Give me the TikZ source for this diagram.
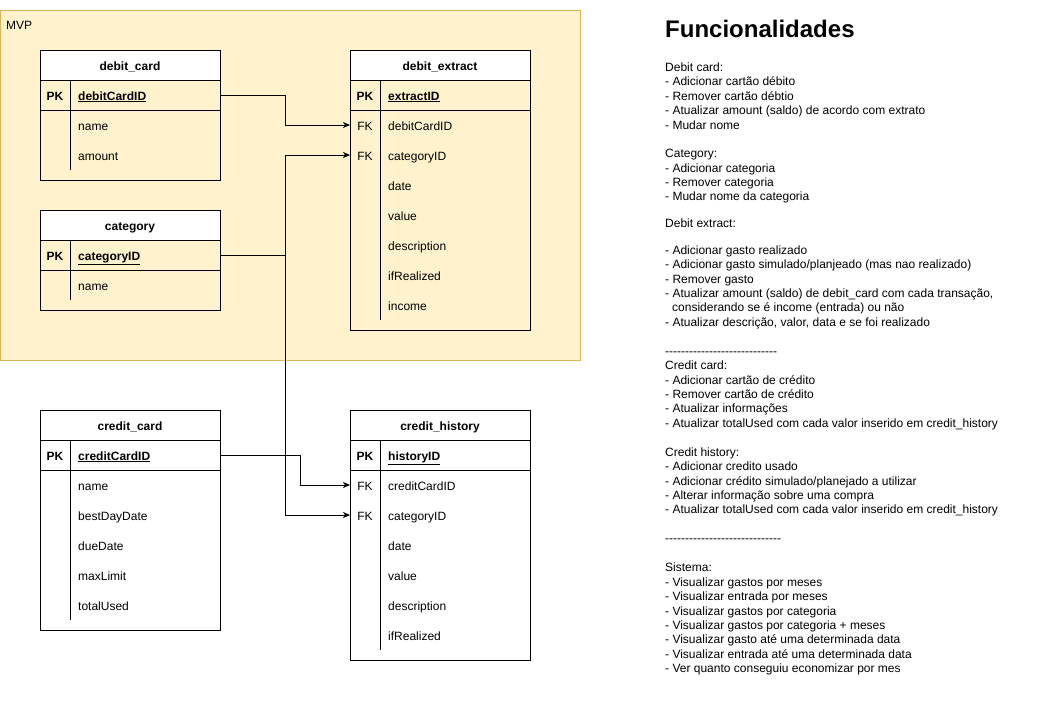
\documentclass[tikz,border=0pt]{standalone}
\usepackage{fontspec}
\setmainfont{Liberation Sans}
\usetikzlibrary{arrows.meta}
\definecolor{mvpfill}{HTML}{FFF2CC}
\definecolor{mvpline}{HTML}{D6B656}
\newcommand\fs{\fontsize{12}{14.4}\selectfont}
\newcommand\dashline[1]{\foreach\k in {1,...,#1}{-\kern0pt}}
% table frame: id, x, y, height, title
\newcommand\ertable[5]{%
  \node[tbody, minimum height=#4, anchor=north west] (#1) at (#2,#3) {};
  \node[thead, anchor=north west] (#1-h) at (#2,#3) {#5};
}
% row: id, x-left, y-centre, key, field
\newcommand\erow[5]{%
  \node[rowbox] (#1) at ({#2+90},{#3}) {};
  \node[keytxt] (#1-k) at ({#2+15},{#3}) {#4};
  \node[fldtxt] (#1-f) at ({#2+38},{#3}) {#5};
}
% inner lines: id, x, y, height
\newcommand\erlines[4]{%
  \draw[tline] (#1-pk.south west) -- (#1-pk.south east);
  \draw[tline] ({#2+30},{#3+30}) -- ({#2+30},{#3+#4-10});
}
\begin{document}
\begin{tikzpicture}[x=1pt,y=-1pt,
  tline/.style={line width=1pt,black},
  tbody/.style={draw=black,line width=1pt,minimum width=180,inner sep=0,outer sep=0},
  thead/.style={draw=black,fill=white,line width=1pt,minimum width=180,minimum height=30,
    inner sep=0,outer sep=0,text height=10pt,text depth=0pt,font=\fs\bfseries},
  rowbox/.style={minimum width=180,minimum height=30,inner sep=0,outer sep=0},
  keytxt/.style={inner sep=0,text height=10pt,text depth=0pt,font=\fs},
  fldtxt/.style={anchor=west,inner sep=0,text height=10pt,text depth=0pt,font=\fs},
  rtxt/.style={anchor=base west,inner sep=0,font=\fs},
  conn/.style={line width=1pt,black,-{Stealth[length=7pt,width=6pt,inset=2pt]}}]
\useasboundingbox (0,0) rectangle (1051,721);

% MVP container
\node[draw=mvpline,fill=mvpfill,line width=1pt,minimum width=580,minimum height=350,
  inner sep=0,outer sep=0,anchor=north west] (mvpbox) at (0.5,10.5) {};
\node[rtxt] (mvp) at (6,29.5) {MVP};

% debit_card
\ertable{dc}{40}{50}{130}{debit\_card}
\erow{dc-pk}{40}{95}{\bfseries PK}{\bfseries\underline{debitCardID}}
\erow{dc-r1}{40}{125}{}{name}
\erow{dc-r2}{40}{155}{}{amount}
\erlines{dc}{40}{50}{130}

% debit_extract
\ertable{de}{350}{50}{280}{debit\_extract}
\erow{de-pk}{350}{95}{\bfseries PK}{\bfseries\underline{extractID}}
\erow{de-r1}{350}{125}{FK}{debitCardID}
\erow{de-r2}{350}{155}{FK}{categoryID}
\erow{de-r3}{350}{185}{}{date}
\erow{de-r4}{350}{215}{}{value}
\erow{de-r5}{350}{245}{}{description}
\erow{de-r6}{350}{275}{}{ifRealized}
\erow{de-r7}{350}{305}{}{income}
\erlines{de}{350}{50}{280}

% category
\ertable{cat}{40}{210}{100}{category}
\erow{cat-pk}{40}{255}{\bfseries PK}{\bfseries\underline{categoryID}}
\erow{cat-r1}{40}{285}{}{name}
\erlines{cat}{40}{210}{100}

% credit_card
\ertable{cc}{40}{410}{220}{credit\_card}
\erow{cc-pk}{40}{455}{\bfseries PK}{\bfseries\underline{creditCardID}}
\erow{cc-r1}{40}{485}{}{name}
\erow{cc-r2}{40}{515}{}{bestDayDate}
\erow{cc-r3}{40}{545}{}{dueDate}
\erow{cc-r4}{40}{575}{}{maxLimit}
\erow{cc-r5}{40}{605}{}{totalUsed}
\erlines{cc}{40}{410}{220}

% credit_history
\ertable{ch}{350}{410}{250}{credit\_history}
\erow{ch-pk}{350}{455}{\bfseries PK}{\bfseries\underline{historyID}}
\erow{ch-r1}{350}{485}{FK}{creditCardID}
\erow{ch-r2}{350}{515}{FK}{categoryID}
\erow{ch-r3}{350}{545}{}{date}
\erow{ch-r4}{350}{575}{}{value}
\erow{ch-r5}{350}{605}{}{description}
\erow{ch-r6}{350}{635}{}{ifRealized}
\erlines{ch}{350}{410}{250}

% connectors
\draw[conn] (dc-pk.east) -- ++(65,0) |- (de-r1.west);
\draw[conn] (cat-pk.east) -- ++(65,0) |- (de-r2.west);
\draw[conn] (cat-pk.east) -- ++(65,0) |- (ch-r2.west);
\draw[conn] (cc-pk.east) -- ++(80,0) |- (ch-r1.west);

% right-hand text
\node[anchor=base west,inner sep=0,font=\fontsize{24}{28.8}\selectfont\bfseries] (title) at (665,37.3) {Funcionalidades};

\foreach \t [count=\i from 0] in {Debit card:, - Adicionar cartão débito, - Remover cartão débtio,
  - Atualizar amount (saldo) de acordo com extrato, - Mudar nome}
  \node[rtxt] (ga-\i) at (665,{71.5+14.4*\i}) {\t};
\foreach \t [count=\i from 0] in {Category:, - Adicionar categoria, - Remover categoria,
  - Mudar nome da categoria}
  \node[rtxt] (gb-\i) at (665,{157.7+14.4*\i}) {\t};
\node[rtxt] (gc-0) at (665,227) {Debit extract:};
\foreach \t [count=\i from 0] in {- Adicionar gasto realizado,
  - Adicionar gasto simulado/planjeado (mas nao realizado), - Remover gasto,
  {- Atualizar amount (saldo) de debit\_card com cada transação,},
  \hspace{7pt}considerando se é income (entrada) ou não,
  {- Atualizar descrição, valor, data e se foi realizado}}
  \node[rtxt] (gd-\i) at (665,{254.2+14.4*\i}) {\t};
\foreach \t [count=\i from 0] in {\dashline{28}, Credit card:, - Adicionar cartão de crédito,
  - Remover cartão de crédito, - Atualizar informações,
  - Atualizar totalUsed com cada valor inserido em credit\_history}
  \node[rtxt] (ge-\i) at (665,{355.2+14.4*\i}) {\t};
\foreach \t [count=\i from 0] in {Credit history:, - Adicionar credito usado,
  - Adicionar crédito simulado/planejado a utilizar, - Alterar informação sobre uma compra,
  - Atualizar totalUsed com cada valor inserido em credit\_history}
  \node[rtxt] (gf-\i) at (665,{456.2+14.4*\i}) {\t};
\node[rtxt] (gg-0) at (665,542.5) {\dashline{29}};
\foreach \t [count=\i from 0] in {Sistema:, - Visualizar gastos por meses, - Visualizar entrada por meses,
  - Visualizar gastos por categoria, - Visualizar gastos por categoria + meses,
  - Visualizar gasto até uma determinada data, - Visualizar entrada até uma determinada data,
  - Ver quanto conseguiu economizar por mes}
  \node[rtxt] (gh-\i) at (665,{571.9+14.4*\i}) {\t};
\end{tikzpicture}
\end{document}
